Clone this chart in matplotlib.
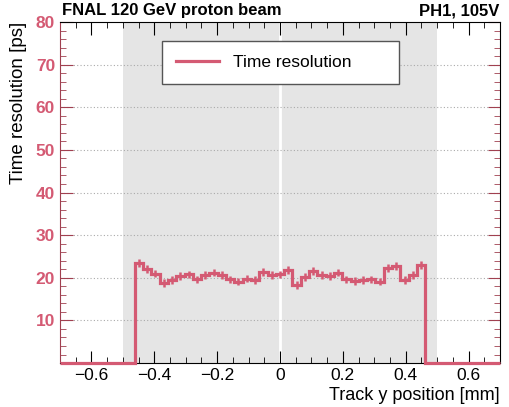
import numpy as np
import matplotlib
matplotlib.use("Agg")
import matplotlib.pyplot as plt
from matplotlib.ticker import MultipleLocator

plt.rcParams['font.family'] = ['Liberation Sans', 'DejaVu Sans']

# histogram: 53 bins over [-0.7, 0.7], only the central 35 are filled
n_bins = 53
x_lo, x_hi = -0.7, 0.7
filled = [23.4, 22.0, 21.0, 18.7, 19.5, 20.4, 20.8, 19.6, 20.6, 21.2,
          20.6, 19.6, 19.1, 19.8, 19.5, 21.4, 20.6,
          20.8,
          21.8, 18.3, 20.2, 21.6, 20.6, 20.4, 21.2, 19.6, 19.3, 19.5,
          19.6, 19.1, 22.3, 22.7, 19.5, 20.6, 23.0]
errors = [0.9] * len(filled)

red = '#d45a73'

edges = np.linspace(x_lo, x_hi, n_bins + 1)
first = (n_bins - len(filled)) // 2
values = np.zeros(n_bins)
values[first:first + len(filled)] = filled
errs = np.zeros(n_bins)
errs[first:first + len(filled)] = errors
centers = 0.5 * (edges[:-1] + edges[1:])

fig = plt.figure(figsize=(5.1, 4.07), dpi=100)
ax = fig.add_axes([0.1176, 0.108, 0.8628, 0.838])

ax.axvspan(-0.5, 0.5, color='#e5e5e5', zorder=0, lw=0)
ax.axvline(0, color='white', lw=2, zorder=1)
for yv in range(10, 80, 10):
    ax.axhline(yv, color='#aaaaaa', lw=0.8, ls=(0, (1, 2)), zorder=1)

ax.stairs(values, edges, color=red, lw=2.3, zorder=3, label='Time resolution',
          clip_on=False)
sel = slice(first, first + len(filled))
ax.errorbar(centers[sel], values[sel], yerr=errs[sel], fmt='none',
            ecolor=red, elinewidth=1.8, capsize=0, zorder=3)

ax.set_xlim(x_lo, x_hi)
ax.set_ylim(0, 80)
ax.xaxis.set_major_locator(MultipleLocator(0.2))
ax.xaxis.set_minor_locator(MultipleLocator(0.05))
ax.yaxis.set_major_locator(MultipleLocator(10))
ax.yaxis.set_minor_locator(MultipleLocator(2))
ax.tick_params(which='both', direction='in', top=True, right=True, labelsize=12.5)
ax.tick_params(which='major', length=9)
ax.tick_params(which='minor', length=4.5)
ax.tick_params(axis='y', which='both', colors='#a04050', labelcolor=red)
ax.spines['left'].set_color('#a04050')
ax.set_yticks([10, 20, 30, 40, 50, 60, 70, 80])
ax.set_xticks([-0.6, -0.4, -0.2, 0, 0.2, 0.4, 0.6])
ax.set_xticklabels(['\u22120.6', '\u22120.4', '\u22120.2', '0', '0.2', '0.4', '0.6'])
for t in ax.get_yticklabels():
    t.set_fontweight('bold')

ax.set_xlabel('Track y position [mm]', fontsize=13, loc='right', labelpad=3)
ax.set_ylabel('Time resolution [ps]', fontsize=13.5, loc='top', labelpad=6)

leg = ax.legend(loc='center', bbox_to_anchor=(0.232, 0.824, 0.538, 0.117),
                mode='expand', fontsize=12.5, fancybox=False, framealpha=1,
                edgecolor='#555555', handlelength=2.5, borderpad=0.8,
                borderaxespad=0)
leg.get_frame().set_linewidth(1)

fig.text(0.122, 0.963, 'FNAL 120 GeV proton beam', fontsize=12, fontweight='bold')
fig.text(0.980, 0.963, 'PH1, 105V', fontsize=12, fontweight='bold', ha='right')

fig.savefig('out.png', dpi=100)
